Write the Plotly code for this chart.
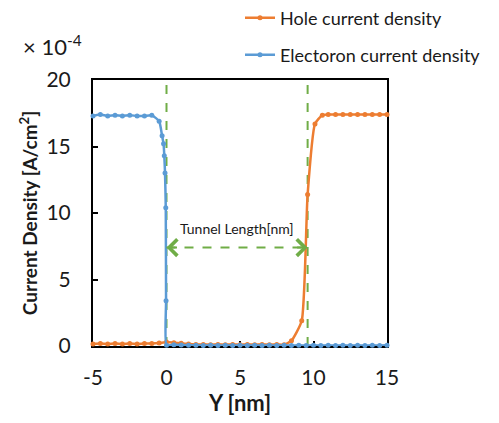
import plotly.graph_objects as go

# ---- data (current density in units of 1e-4 A/cm^2) ----
electron_x = [-5, -4.5, -4, -3.5, -3, -2.5, -2, -1.5, -1, -0.5, -0.3, -0.2, -0.15, -0.1, -0.05, -0.03, 0,
              0.5, 1, 1.5, 2, 2.5, 3, 3.5, 4, 4.5, 5, 5.5, 6, 6.5, 7, 7.5, 8, 8.5, 9, 9.5, 10,
              10.5, 11, 11.5, 12, 12.5, 13, 13.5, 14, 14.5, 15]
electron_y = [17.3, 17.4, 17.3, 17.35, 17.3, 17.35, 17.3, 17.3, 17.35, 16.9, 15.8, 15.2, 14.3, 13.0, 10.4, 3.4, 0.05,
              0.1, 0.08, 0.05, 0.05, 0.04, 0.05, 0.04, 0.05, 0.04, 0.05, 0.04, 0.05, 0.04, 0.05, 0.04, 0.05, 0.04, 0.05, 0.04, 0.05,
              0.04, 0.05, 0.04, 0.05, 0.04, 0.05, 0.04, 0.05, 0.04, 0.05]

hole_x = [-5, -4.5, -4, -3.5, -3, -2.5, -2, -1.5, -1, -0.5, 0, 0.5, 1, 1.5, 2, 2.5, 3, 3.5, 4, 4.5,
          5, 5.5, 6, 6.5, 7, 7.5, 8, 8.5, 9.2, 9.6, 10.1, 10.6, 11, 11.5, 12, 12.5, 13, 13.5, 14, 14.5, 15]
hole_y = [0.15, 0.18, 0.15, 0.18, 0.15, 0.18, 0.15, 0.18, 0.18, 0.22, 0.3, 0.25, 0.2, 0.15, 0.12, 0.12, 0.1, 0.12, 0.1, 0.12,
          0.1, 0.12, 0.1, 0.12, 0.1, 0.12, 0.1, 0.4, 1.9, 11.4, 16.7, 17.35, 17.4, 17.4, 17.4, 17.4, 17.4, 17.4, 17.4, 17.4, 17.4]

boundary_x = [0, 9.6]        # tunnel edges [nm]
arrow_level = [7.4]          # height of the tunnel-length arrow
x_ticks = [-5, 0, 5, 10, 15]
y_ticks = [0, 5, 10, 15, 20]

BLUE = "#5B9BD5"
ORANGE = "#ED7D31"
GREEN = "#70AD47"
TXT = "#1a1a1a"
FONT = "Lato"

fig = go.Figure()

# vertical dashed boundary lines
for bx in boundary_x:
    fig.add_trace(go.Scatter(x=[bx, bx], y=[0, 20], mode="lines", showlegend=False,
                             line=dict(color=GREEN, width=2, dash="dash"), hoverinfo="skip"))

fig.add_trace(go.Scatter(x=hole_x, y=hole_y, mode="lines+markers", name="Hole current density",
                         line=dict(color=ORANGE, width=2.5, shape="spline", smoothing=0.5),
                         marker=dict(color=ORANGE, size=5), legend="legend", cliponaxis=False))
fig.add_trace(go.Scatter(x=electron_x, y=electron_y, mode="lines+markers", name="Electoron current density",
                         line=dict(color=BLUE, width=2.5, shape="spline", smoothing=0.5),
                         marker=dict(color=BLUE, size=5), legend="legend2", cliponaxis=False))

# horizontal dashed tunnel-length line
fig.add_trace(go.Scatter(x=[boundary_x[0], boundary_x[1]], y=[arrow_level[0]] * 2, mode="lines",
                         showlegend=False, line=dict(color=GREEN, width=2, dash="dash"), hoverinfo="skip"))

# arrow heads
for bx, off in [(boundary_x[0], 12), (boundary_x[1], -12)]:
    fig.add_annotation(x=bx, y=arrow_level[0], ax=off, ay=0, text="", showarrow=True,
                       arrowhead=4, arrowsize=1.6, arrowwidth=2, arrowcolor=GREEN, standoff=0)

fig.add_annotation(x=(boundary_x[0] + boundary_x[1]) / 2, y=arrow_level[0], text="Tunnel Length[nm]",
                   showarrow=False, yshift=19, font=dict(family=FONT, size=14, color=TXT))

fig.add_annotation(xref="paper", yref="paper", x=-0.245, y=1.13, xanchor="left", yanchor="middle",
                   text="× 10<sup>-4</sup>", showarrow=False, font=dict(family=FONT, size=22, color=TXT))

fig.update_layout(
    width=499, height=423,
    margin=dict(l=93, r=112, t=80, b=77, autoexpand=False),
    paper_bgcolor="white", plot_bgcolor="white",
    font=dict(family=FONT, color=TXT),
    showlegend=True,
    legend=dict(x=0.5, y=1.233, xanchor="left", yanchor="middle", font=dict(family=FONT, size=18, color=TXT),
                bgcolor="rgba(0,0,0,0)", itemwidth=30),
    legend2=dict(x=0.5, y=1.094, xanchor="left", yanchor="middle", font=dict(family=FONT, size=18, color=TXT),
                 bgcolor="rgba(0,0,0,0)", itemwidth=30),
    xaxis=dict(range=[-5, 15], tickvals=x_ticks, ticktext=[str(v) for v in x_ticks],
               showgrid=False, zeroline=False, showline=True, mirror=True, linecolor="black", linewidth=2,
               ticks="inside", ticklen=5, tickwidth=2, tickcolor="black", ticklabelstandoff=12,
               tickfont=dict(family=FONT, size=21, color=TXT), automargin=False,
               title=dict(text="<b>Y [nm]</b>", font=dict(family=FONT, size=22, color=TXT), standoff=4),
               layer="below traces"),
    yaxis=dict(range=[0, 20], tickvals=y_ticks, ticktext=[str(v) for v in y_ticks],
               showgrid=False, zeroline=False, showline=True, mirror=True, linecolor="black", linewidth=2,
               ticks="inside", ticklen=5, tickwidth=2, tickcolor="black", ticklabelstandoff=16,
               tickfont=dict(family=FONT, size=21, color=TXT), automargin=False,
               title=dict(text="<b>Current Density [A/cm<sup>2</sup>]</b>", font=dict(family=FONT, size=19, color=TXT),
                          standoff=4),
               layer="below traces"),
)

fig.write_html("out.html", config={"displayModeBar": False},
               post_script="document.body.style.margin='0';document.body.style.overflow='hidden';")
